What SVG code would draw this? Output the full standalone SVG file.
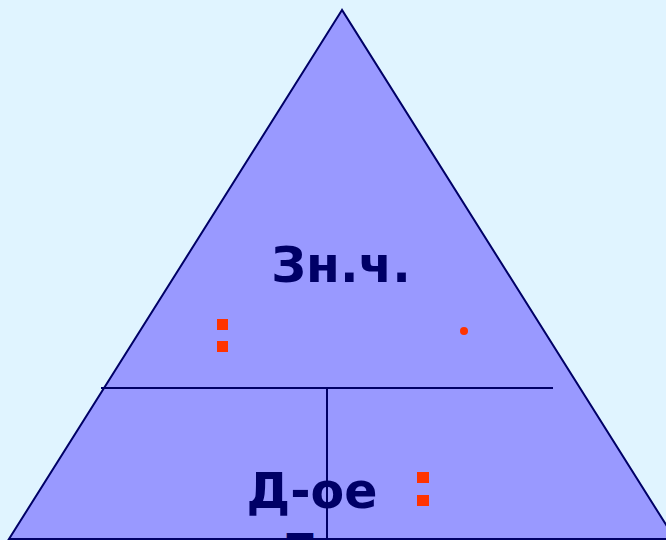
<svg xmlns="http://www.w3.org/2000/svg" width="666" height="540" viewBox="0 0 666 540">
<style>
.ln{stroke:#000066;stroke-width:2;fill:none}
.t{font-family:"DejaVu Sans",Verdana,sans-serif;font-weight:bold;font-size:49px;fill:#000066}
.r{fill:#FF3300}
</style>
<rect width="666" height="540" fill="#E0F4FF"/>
<g id="triangle">
<polygon points="342,10 9,539 675,539" fill="#9999FF" stroke="#000066" stroke-width="2"/>
</g>
<g id="connectors">
<line class="ln" x1="101" y1="388" x2="553" y2="388"/>
<line class="ln" x1="327" y1="388" x2="327" y2="540"/>
</g>
<g id="top">
<text class="t" x="341" y="282" text-anchor="middle">Зн.ч.</text>
<rect class="r" x="217" y="319" width="11" height="11"/>
<rect class="r" x="217" y="341" width="11" height="11"/>
<circle class="r" cx="464" cy="331" r="4"/>
</g>
<g id="bottom-left">
<text class="t" x="312" y="508" text-anchor="middle">Д-ое</text>
<text class="t" x="300" y="569" text-anchor="middle" textLength="27" lengthAdjust="spacingAndGlyphs">Т</text>
<rect class="r" x="417" y="472" width="12" height="11"/>
<rect class="r" x="417" y="495" width="12" height="11"/>
</g>
</svg>
